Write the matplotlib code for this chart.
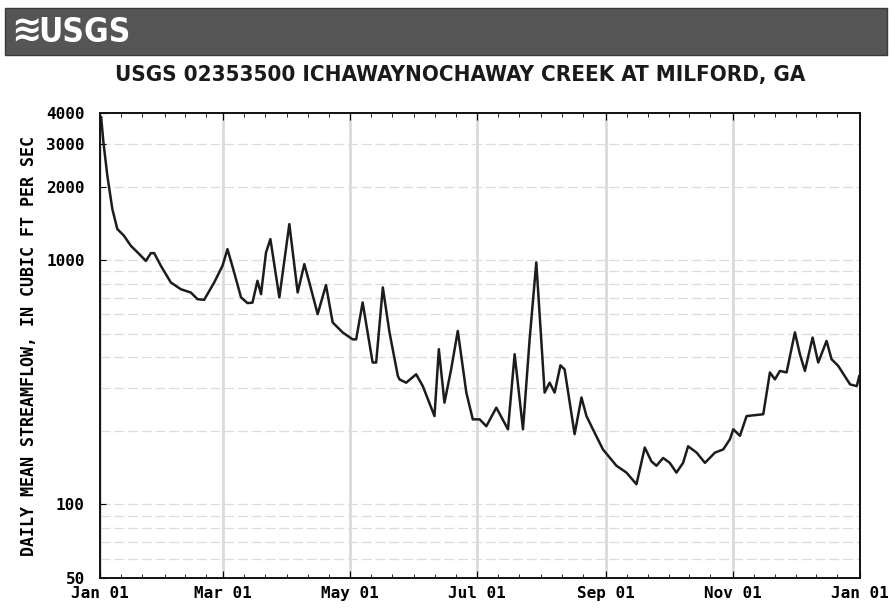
import numpy as np
import matplotlib
matplotlib.use("Agg")
import matplotlib.pyplot as plt
import matplotlib.dates as mdates
from matplotlib.patches import Rectangle
from matplotlib.ticker import FixedLocator, LogLocator, NullFormatter

# Daily mean streamflow (day of year, cfs)
days = [0, 0.5, 1.6, 3.5, 5.9, 8.3, 11.5, 14.8, 17.9, 22.0, 24.4, 26.0, 29.2,
        34.0, 38.8, 43.6, 46.8, 50.0, 54.8, 58.8, 61.2, 64.4, 67.7, 70.8,
        73.2, 75.6, 77.3, 79.7, 81.8, 86.1, 90.9, 94.9, 98.1, 100.5, 104.5,
        108.5, 111.7, 116.5, 121.3, 123.0, 126.1, 130.9, 132.6, 135.8, 139.0,
        143.0, 143.8, 147.0, 151.8, 155.0, 160.6, 162.7, 165.4, 168.6, 171.8,
        175.9, 179.0, 182.3, 185.5, 190.3, 195.9, 199.1, 203.1, 206.3, 209.5,
        213.5, 215.9, 218.3, 221.1, 223.1, 227.9, 231.2, 233.6, 236.7, 241.5,
        248.0, 252.8, 257.6, 261.6, 264.8, 267.2, 270.4, 273.6, 276.8, 280.0,
        282.4, 286.5, 290.5, 295.3, 299.3, 302.5, 304.1, 307.3, 310.5, 318.5,
        321.7, 324.1, 326.5, 329.7, 333.7, 336.1, 338.5, 342.2, 344.9, 348.9,
        351.3, 354.5, 360.2, 363.4, 364.6]
flow = [3700, 3855, 3045, 2215, 1618, 1340, 1258, 1144, 1078, 993, 1068, 1068,
        948, 810, 760, 737, 692, 688, 810, 948, 1109, 890, 704, 667,
        670, 823, 726, 1075, 1219, 704, 1404, 737, 963, 810, 601,
        790, 556, 506, 474, 474, 671, 381, 381, 773, 506,
        336, 325, 315, 341, 305, 230, 432, 261, 357, 513,
        287, 223, 223, 209, 249, 203, 412, 203, 474, 979,
        287, 315, 287, 371, 357, 194, 274, 230, 203, 168,
        144, 135, 121, 171, 150, 144, 155, 148, 135, 148,
        173, 163, 148, 163, 168, 185, 203, 191, 230, 234,
        347, 325, 352, 347, 506, 412, 352, 482, 381, 467,
        393, 369, 310, 305, 335]

y_ticks = [50, 100, 1000, 2000, 3000, 4000]
title = "USGS 02353500 ICHAWAYNOCHAWAY CREEK AT MILFORD, GA"
y_label = "DAILY MEAN STREAMFLOW, IN CUBIC FT PER SEC"

start = np.datetime64("2001-01-01")
dates = start + (np.array(days) * 24 * 3600).astype("timedelta64[s]")

mono = {"family": "DejaVu Sans Mono", "weight": "bold"}
narrow = ["Liberation Sans Narrow", "DejaVu Sans"]

fig = plt.figure(figsize=(8.91, 6.09), dpi=100)
fig.patch.set_facecolor("white")

# banner
fig.patches.append(Rectangle((0.006, 0.91), 0.99, 0.077, transform=fig.transFigure,
                             facecolor="#555555", edgecolor="#3a3a3a", lw=1))
fig.text(0.012, 0.948, "\u224b", color="white", fontsize=26, weight="bold",
         va="center", ha="left", family="DejaVu Sans")
fig.text(0.043, 0.946, "USGS", color="white", fontsize=24, weight="bold",
         stretch="condensed", va="center", ha="left", family=narrow)

fig.text(0.517, 0.877, title, fontsize=16, weight="bold", ha="center", va="center",
         stretch="condensed", family=narrow, color="#1a1a1a")

ax = fig.add_axes([0.1123, 0.0509, 0.8530, 0.7635])
ax.plot(dates, flow, color="#1c1c1c", lw=1.8)

ax.set_yscale("log")
ax.set_ylim(50, 4000)
ax.set_xlim(np.datetime64("2001-01-01"), np.datetime64("2002-01-01"))

ax.yaxis.set_major_locator(FixedLocator(y_ticks))
ax.set_yticklabels([str(v) for v in y_ticks], fontdict=mono, fontsize=11.5)
ax.yaxis.set_minor_locator(LogLocator(base=10, subs=np.arange(2, 10)))
ax.yaxis.set_minor_formatter(NullFormatter())

ax.xaxis.set_major_locator(mdates.MonthLocator(bymonth=[1, 3, 5, 7, 9, 11]))
ax.xaxis.set_minor_locator(mdates.DayLocator(bymonthday=[1, 11, 21]))
ax.xaxis.set_major_formatter(mdates.DateFormatter("%b %d"))
for lab in ax.get_xticklabels():
    lab.set_fontproperties(matplotlib.font_manager.FontProperties(**mono, size=11.5))
ax.tick_params(axis="x", which="major", length=5, direction="in", top=True, pad=6,
               labelsize=11.5)
ax.tick_params(axis="x", which="minor", length=3, direction="in", top=True)
ax.tick_params(axis="y", which="major", length=4, direction="in", pad=11, labelsize=11.5)
ax.tick_params(axis="y", which="minor", length=0)

ax.grid(True, axis="x", which="major", color="#dadada", lw=2)
ax.grid(True, axis="y", which="both", color="#dcdcdc", lw=0.9, ls=(0, (8, 3)))
ax.set_axisbelow(True)

for s in ax.spines.values():
    s.set_linewidth(1.4)
    s.set_color("#111111")

ax.set_ylabel(y_label, fontdict=mono, fontsize=12, labelpad=6)

fig.savefig("out.png", dpi=100)
